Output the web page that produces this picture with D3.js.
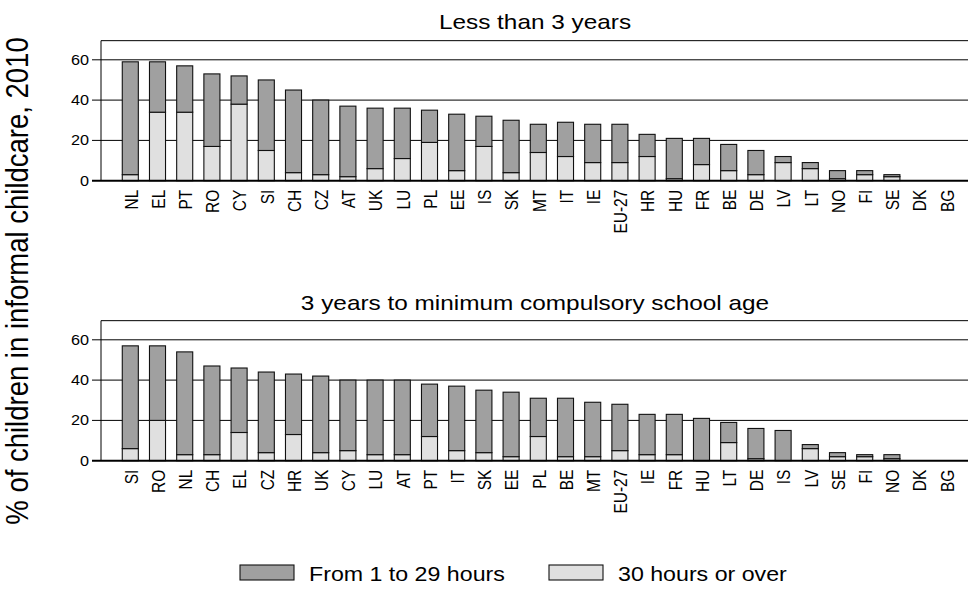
<!DOCTYPE html>
<html><head><meta charset="utf-8">
<script src="https://cdn.jsdelivr.net/npm/d3@7"></script>
<style>html,body{margin:0;padding:0;background:#fff}svg{display:block}text{font-family:"Liberation Sans",Arial,sans-serif;fill:#000}</style>
</head><body><div id="chart"></div>
<script>
// ---- data ----
const titles = ["Less than 3 years", "3 years to minimum compulsory school age"];
const seriesNames = ["From 1 to 29 hours", "30 hours or over"];
const yTicks = [0, 20, 40, 60];
const yLabel = "% of children in informal childcare, 2010";

const catsUnder3 = ["NL","EL","PT","RO","CY","SI","CH","CZ","AT","UK","LU","PL","EE","IS","SK","MT","IT","IE","EU-27","HR","HU","FR","BE","DE","LV","LT","NO","FI","SE","DK","BG"];
const under3Short = [56,25,23,36,14,35,41,37,35,30,25,16,28,15,26,14,17,19,19,11,20,13,13,12,3,3,4,2,1,0,0];
const under3Long  = [3,34,34,17,38,15,4,3,2,6,11,19,5,17,4,14,12,9,9,12,1,8,5,3,9,6,1,3,2,0,0];

const catsOver3 = ["SI","RO","NL","CH","EL","CZ","HR","UK","CY","LU","AT","PT","IT","SK","EE","PL","BE","MT","EU-27","IE","FR","HU","LT","DE","IS","LV","SE","FI","NO","DK","BG"];
const over3Short = [51,37,51,44,32,40,30,38,35,37,37,26,32,31,32,19,29,27,23,20,20,21,10,15,15,2,2,1,2,0,0];
const over3Long  = [6,20,3,3,14,4,13,4,5,3,3,12,5,4,2,12,2,2,5,3,3,0,9,1,0,6,2,2,1,0,0];

// ---- layout ----
const W = 968, H = 589, SX = 1.16;
const colors = {short: "#a0a0a0", long: "#e0e0e0"};
const left = 101, right = 968;
const panels = [
  {title: titles[0], cats: catsUnder3, short: under3Short, long: under3Long, y0: 180.7, titleY: 29},
  {title: titles[1], cats: catsOver3, short: over3Short, long: over3Long, y0: 460.7, titleY: 310}
];
const yMax = 69.5, pxPerUnit = 2.015;

const svg = d3.select("#chart").append("svg").attr("width", W).attr("height", H);

function stretchText(g, x, y, str, size, anchor, rotate) {
  return g.append("text")
    .attr("transform", `translate(${x},${y}) scale(${SX},1)` + (rotate ? ` rotate(${rotate})` : ""))
    .attr("text-anchor", anchor)
    .attr("font-size", size)
    .text(str);
}

panels.forEach(p => {
  const g = svg.append("g");
  const y = d3.scaleLinear().domain([0, yMax]).range([p.y0, p.y0 - yMax * pxPerUnit]);
  const x = d3.scaleBand().domain(p.cats).range([116.7, 959.9]).paddingInner(0.41).paddingOuter(0.205);

  // grid lines + ticks
  g.selectAll("line.grid").data(yTicks.filter(t => t > 0)).join("line")
    .attr("x1", left - 9).attr("x2", right)
    .attr("y1", d => y(d)).attr("y2", d => y(d))
    .attr("stroke", "#000").attr("stroke-width", 1);
  // top border & left border
  g.append("line").attr("x1", left).attr("x2", right).attr("y1", y(yMax)).attr("y2", y(yMax)).attr("stroke", "#000").attr("stroke-width", 1);
  g.append("line").attr("x1", left).attr("x2", left).attr("y1", y(yMax)).attr("y2", y(0)).attr("stroke", "#000").attr("stroke-width", 1);

  // tick labels
  yTicks.forEach(t => {
    stretchText(g, left - 12, y(t) + 5, String(t), 14, "end");
  });

  // bars
  const stackData = p.cats.map((c, i) => ({cat: c, long: p.long[i], short: p.short[i]}));
  const stack = d3.stack().keys(["long", "short"])(stackData);
  stack.forEach(layer => {
    g.selectAll(null).data(layer.filter(d => d[1] - d[0] > 0)).join("rect")
      .attr("x", d => x(d.data.cat))
      .attr("width", x.bandwidth())
      .attr("y", d => y(d[1]))
      .attr("height", d => y(d[0]) - y(d[1]))
      .attr("fill", colors[layer.key])
      .attr("stroke", "#111").attr("stroke-width", 1.1);
  });

  // zero axis
  g.append("line").attr("x1", left - 9).attr("x2", right).attr("y1", y(0)).attr("y2", y(0)).attr("stroke", "#000").attr("stroke-width", 2);

  // category labels
  p.cats.forEach(c => {
    stretchText(g, x(c) + x.bandwidth() / 2 + 1, y(0) + 9, c, 15.5, "end", -90).attr("dy", "0.35em");
  });

  // title
  stretchText(g, 535, p.titleY, p.title, 21, "middle");
});

// y label
stretchText(svg, 17, 281, yLabel, 27.5, "middle", -90).attr("dy", "0.35em");

// legend
const legend = svg.append("g");
const legItems = [{name: seriesNames[0], color: colors.short, x: 240}, {name: seriesNames[1], color: colors.long, x: 549}];
legItems.forEach(it => {
  legend.append("rect").attr("x", it.x).attr("y", 565).attr("width", 54).attr("height", 15)
    .attr("fill", it.color).attr("stroke", "#111").attr("stroke-width", 1.1);
  stretchText(legend, it.x + 69, 581, it.name, 20, "start");
});
</script></body></html>
